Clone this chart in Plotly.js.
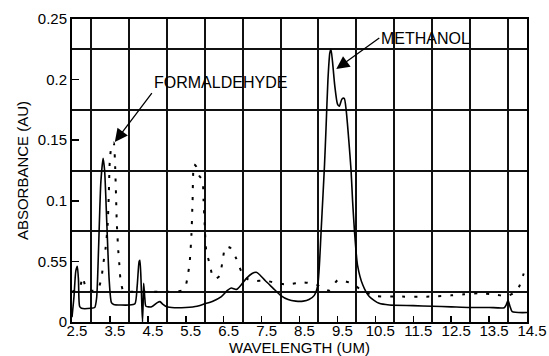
<!DOCTYPE html>
<html>
<head>
<meta charset="utf-8">
<script src="https://cdn.plot.ly/plotly-3.0.1.min.js"></script>
<style>html,body{margin:0;padding:0;background:#fff;}#chart{width:549px;height:356px;}</style>
</head>
<body>
<div id="chart"></div>
<script>
// Methanol (solid line)
var methanolX = [2.5,2.55,2.6,2.64,2.67,2.7,2.75,3.0,3.1,3.15,3.2,3.26,3.32,3.36,3.42,3.48,3.54,3.6,4.0,4.16,4.22,4.27,4.29,4.32,4.34,4.36,4.38,4.39,4.42,4.45,4.6,4.75,4.82,4.9,5.0,5.2,5.5,5.8,6.0,6.2,6.44,6.6,6.7,6.8,6.85,6.97,7.1,7.25,7.36,7.45,7.6,7.8,8.0,8.2,8.4,8.6,8.75,8.89,8.98,9.03,9.07,9.12,9.16,9.2,9.25,9.3,9.33,9.37,9.43,9.5,9.55,9.62,9.68,9.73,9.8,9.86,9.9,9.95,10.03,10.17,10.34,10.6,10.87,11.5,12.0,12.5,13.0,13.5,13.9,13.95,14.0,14.05,14.11,14.5];
var methanolY = [0.004,0.02,0.042,0.046,0.035,0.013,0.0113,0.0113,0.012,0.02,0.06,0.115,0.135,0.125,0.08,0.035,0.016,0.0145,0.014,0.015,0.03,0.05,0.051,0.035,0.015,0.0,0.02,0.032,0.02,0.013,0.0125,0.016,0.0168,0.0145,0.0125,0.0118,0.012,0.013,0.015,0.017,0.021,0.026,0.028,0.027,0.027,0.031,0.036,0.040,0.041,0.039,0.034,0.028,0.022,0.0185,0.0172,0.0172,0.0185,0.022,0.030,0.05,0.075,0.105,0.13,0.16,0.2,0.222,0.225,0.215,0.195,0.18,0.178,0.184,0.1845,0.175,0.15,0.125,0.1,0.075,0.047,0.0305,0.021,0.0154,0.014,0.0135,0.013,0.0125,0.012,0.012,0.0118,0.014,0.018,0.013,0.0085,0.0078];

// Formaldehyde (dotted line)
var formX = [2.5,2.7,2.78,2.85,2.95,3.1,3.2,3.28,3.32,3.39,3.44,3.47,3.5,3.55,3.6,3.63,3.66,3.68,3.72,3.75,3.78,3.85,4.0,4.5,5.0,5.4,5.5,5.54,5.6,5.65,5.68,5.72,5.78,5.85,5.94,5.97,6.0,6.04,6.13,6.22,6.3,6.39,6.47,6.54,6.62,6.68,6.83,6.97,7.1,7.24,7.62,7.9,8.19,8.59,8.94,9.1,9.29,9.51,9.86,10.2,10.52,11.0,12.0,12.5,12.84,13.24,13.63,13.98,14.15,14.29,14.4,14.47];
var formY = [0.025,0.028,0.037,0.03,0.026,0.026,0.028,0.037,0.047,0.062,0.080,0.105,0.135,0.146,0.148,0.135,0.106,0.083,0.059,0.047,0.035,0.026,0.025,0.025,0.025,0.026,0.03,0.036,0.048,0.072,0.100,0.13,0.128,0.121,0.117,0.100,0.08,0.059,0.048,0.037,0.036,0.038,0.050,0.0616,0.062,0.061,0.0525,0.0415,0.036,0.034,0.034,0.032,0.031,0.0327,0.031,0.028,0.026,0.0346,0.032,0.025,0.0214,0.021,0.021,0.022,0.0228,0.0237,0.0228,0.0214,0.024,0.029,0.0388,0.045];

var xTickVals = [2.5,3.5,4.5,5.5,6.5,7.5,8.5,9.5,10.5,11.5,12.5,13.5,14.5];
var xTickText = ['2.5','3.5','4.5','5.5','6.5','7.5','8.5','9.5','10.5','11.5','12.5','13.5','14.5'];
var xGridVals = [3,4,5,6,7,8,9,10,11,12,13,14];
var yTickVals = [0,0.05,0.1,0.15,0.2,0.25];
var yTickText = ['0','0.55','0.1','0.15','0.2','0.25'];
var yGridVals = [0.025,0.075,0.125,0.175,0.225];

var FONT = '"Liberation Sans", Arial, Helvetica, sans-serif';
var NB = '\u00a0';

var traces = [
  {x: methanolX, y: methanolY, mode: 'lines', type: 'scatter', name: 'METHANOL',
   line: {color: '#000', width: 1.6, shape: 'spline', smoothing: 0.6}},
  {x: formX, y: formY, mode: 'lines', type: 'scatter', name: 'FORMALDEHYDE',
   line: {color: '#000', width: 2, dash: '3px,9px', shape: 'spline', smoothing: 0.6}}
];

var layout = {
  width: 549, height: 356,
  margin: {l: 72, r: 22, t: 19, b: 34},
  paper_bgcolor: '#fff', plot_bgcolor: '#fff',
  showlegend: false,
  font: {family: FONT, color: '#000', size: 14},
  xaxis: {
    range: [2.5, 14.5], tickmode: 'array', tickvals: xTickVals, ticktext: xTickText,
    ticks: 'inside', ticklen: 6, tickwidth: 1.5, tickcolor: '#000',
    showgrid: false, zeroline: false, showline: true, mirror: true, linecolor: '#000', linewidth: 2,
    ticklabelshift: 5, ticklabelstandoff: -6,
    tickfont: {size: 15, family: FONT, color: '#000'},
    minor: {tickmode: 'array', tickvals: xGridVals, showgrid: true, gridcolor: '#111', gridwidth: 2, ticks: ''},
    title: {text: NB.repeat(4) + 'WAVELENGTH (UM)', font: {size: 15, family: FONT, color: '#000'}, standoff: 1},
    automargin: false
  },
  yaxis: {
    range: [0, 0.25], tickmode: 'array', tickvals: yTickVals, ticktext: yTickText,
    ticks: 'inside', ticklen: 7, tickwidth: 1.5, tickcolor: '#000',
    showgrid: false, zeroline: false, showline: true, mirror: true, linecolor: '#000', linewidth: 2,
    tickfont: {size: 15, family: FONT, color: '#000'},
    minor: {tickmode: 'array', tickvals: yGridVals, showgrid: true, gridcolor: '#111', gridwidth: 2, ticks: ''},
    title: {text: 'ABSORBANCE (AU)' + NB.repeat(6), font: {size: 15, family: FONT, color: '#000'}, standoff: 6},
    automargin: false
  },
  annotations: [
    {x: 3.63, y: 0.1485, xref: 'x', yref: 'y', text: 'FORMALDEHYDE', showarrow: true,
     ax: 37, ay: -49, xanchor: 'left', yanchor: 'bottom', arrowhead: 2, arrowsize: 2, arrowwidth: 1.3, arrowcolor: '#000',
     font: {size: 16, family: FONT, color: '#000'}},
    {x: 9.47, y: 0.2087, xref: 'x', yref: 'y', text: 'METHANOL', showarrow: true,
     ax: 43, ay: -31, xanchor: 'left', yanchor: 'middle', arrowhead: 2, arrowsize: 2, arrowwidth: 1.3, arrowcolor: '#000',
     font: {size: 16, family: FONT, color: '#000'}}
  ]
};

Plotly.newPlot('chart', traces, layout, {displayModeBar: false, staticPlot: true});
</script>
</body>
</html>
